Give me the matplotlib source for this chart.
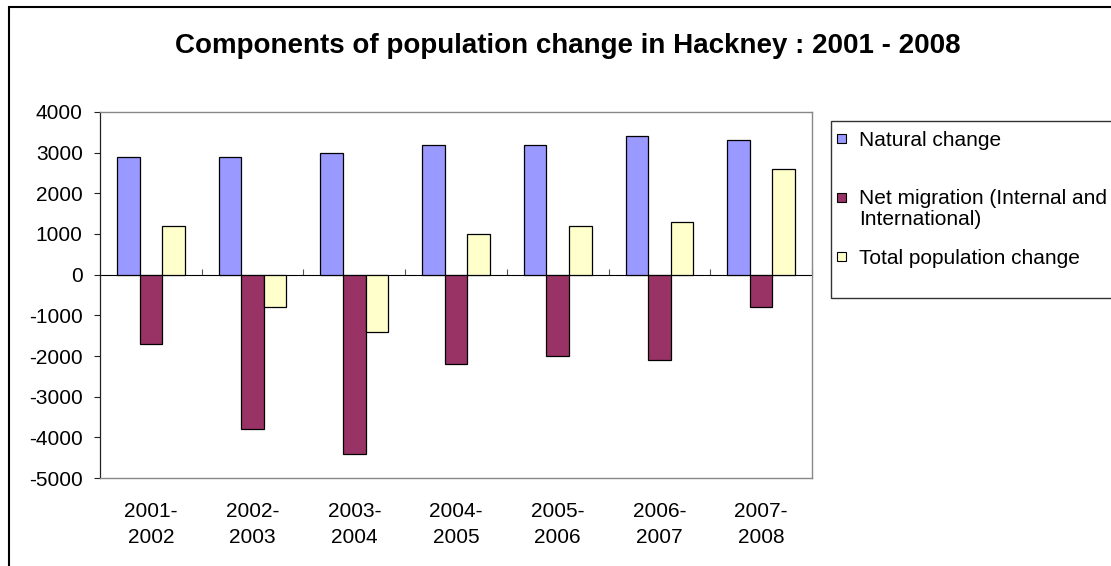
import numpy as np
import matplotlib.pyplot as plt
from matplotlib.patches import Rectangle

plt.rcParams['font.family'] = ['Liberation Sans', 'DejaVu Sans']

# data
periods = ['2001-\n2002', '2002-\n2003', '2003-\n2004', '2004-\n2005',
           '2005-\n2006', '2006-\n2007', '2007-\n2008']
natural_change = [2900, 2900, 3000, 3200, 3200, 3400, 3300]
net_migration = [-1700, -3800, -4400, -2200, -2000, -2100, -800]
total_change = [1200, -800, -1400, 1000, 1200, 1300, 2600]

series_names = ['Natural change', 'Net migration (Internal and\nInternational)',
                'Total population change']
series_colors = ['#9999FF', '#993366', '#FFFFCC']
yticks = [4000, 3000, 2000, 1000, 0, -1000, -2000, -3000, -4000, -5000]

W, H = 1111, 566
fig = plt.figure(figsize=(W / 100, H / 100), dpi=100)

def fx(px):
    return px / W

def fy(py):
    return 1 - py / H

# outer chart frame (right and bottom edges fall outside the picture)
fig.patches.append(Rectangle((fx(8.5), -0.1), 1.2, fy(6.5) + 0.1, transform=fig.transFigure,
                             fill=False, edgecolor='black', linewidth=1.5))

ax = fig.add_axes([fx(100), fy(478), fx(812) - fx(100), fy(112) - fy(478)])

x = np.arange(len(periods))
w = 0.222
for j, vals in enumerate([natural_change, net_migration, total_change]):
    ax.bar(x + (j - 1) * w, vals, width=w, color=series_colors[j],
           edgecolor='black', linewidth=0.9, zorder=3)

ax.set_xlim(-0.5, len(periods) - 0.5)
ax.set_ylim(min(yticks), max(yticks))
ax.set_yticks(yticks)
ax.set_yticklabels([str(v) for v in yticks])
ax.set_xticks(x)
ax.set_xticklabels(periods, linespacing=1.5)
ax.tick_params(axis='x', length=0, pad=17, labelsize=15)
ax.tick_params(axis='y', direction='out', length=4.5, width=0.8, pad=8, labelsize=15,
               color='#222222')

for s in ['top', 'right', 'bottom']:
    ax.spines[s].set_color('#888888')
    ax.spines[s].set_linewidth(1.0)
ax.spines['left'].set_color('#222222')
ax.spines['left'].set_linewidth(0.9)

# category axis crossing at zero, with tick marks between groups
zero_pos = (0 - min(yticks)) / (max(yticks) - min(yticks))
sec = ax.secondary_xaxis(zero_pos)
sec.set_xticks(np.arange(0.5, len(periods) - 0.4, 1.0))
sec.set_xticklabels([])
sec.tick_params(direction='out', length=4, width=0.8, color='#555555')
sec.spines['bottom'].set_color('#808080')
sec.spines['bottom'].set_linewidth(1.2)
sec.spines['bottom'].set_zorder(4)

fig.text(fx(568), fy(53), 'Components of population change in Hackney : 2001 - 2008',
         ha='center', va='baseline', fontsize=20, fontweight='bold')

# legend box drawn like the spreadsheet legend (clipped at right edge)
fig.patches.append(Rectangle((fx(831), fy(298)), 0.5, fy(121) - fy(298),
                             transform=fig.transFigure, fill=False,
                             edgecolor='#333333', linewidth=1.0))
slot = (298 - 121) / 3
for k, (name, col) in enumerate(zip(series_names, series_colors)):
    cy = 121 + k * slot + 17.5
    fig.patches.append(Rectangle((fx(837), fy(cy + 4.5)), fx(9), fy(cy - 4.5) - fy(cy + 4.5),
                                 transform=fig.transFigure, facecolor=col,
                                 edgecolor='black', linewidth=0.8))
    fig.text(fx(859), fy(cy - 8), name, ha='left', va='top', fontsize=15,
             linespacing=1.1)

fig.savefig('out.png', dpi=100)
